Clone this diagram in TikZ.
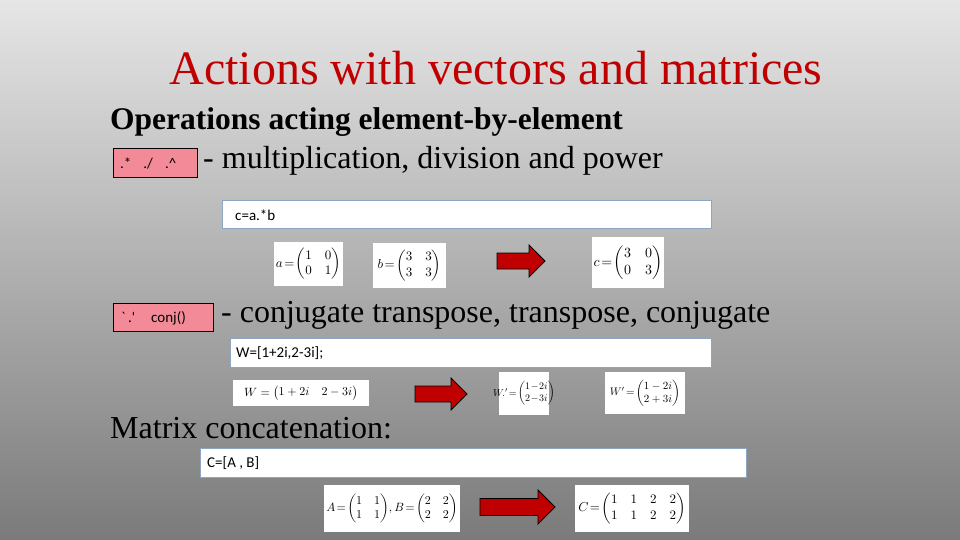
\documentclass[tikz,border=0pt]{standalone}
\usepackage{fontspec}
\usepackage{amsmath}
\usepackage{graphicx}
\setmainfont{Liberation Serif}
\newfontfamily\codefont{Carlito}
\usetikzlibrary{calc}
\definecolor{titlered}{HTML}{C00000}
\definecolor{pinkbox}{HTML}{F28A98}
\definecolor{codeborder}{HTML}{8EA6C4}
\definecolor{arrowred}{HTML}{C00000}
\tikzset{
  codebox/.style={draw=codeborder,fill=white,line width=0.8pt},
  opbox/.style={draw=black,fill=pinkbox,line width=0.6pt},
  matbox/.style={fill=white},
  codetxt/.style={anchor=west,font=\codefont\fontsize{15}{17}\selectfont,inner sep=0pt},
  bigtxt/.style={anchor=west,font=\fontsize{32}{35}\selectfont,inner sep=0pt},
  mat/.style={inner sep=0pt}
}
\newcommand{\bigarrow}[5]{% name, x1, x2, ytop, ybot
  \path[draw=black,fill=arrowred,line width=0.8pt]
    (#2,{#4+(#5-#4)*0.25}) -- ({#3-(#5-#4)*0.5},{#4+(#5-#4)*0.25}) -- ({#3-(#5-#4)*0.5},#4)
    -- (#3,{(#4+#5)/2}) -- ({#3-(#5-#4)*0.5},#5) -- ({#3-(#5-#4)*0.5},{#5-(#5-#4)*0.25})
    -- (#2,{#5-(#5-#4)*0.25}) -- cycle;
  \coordinate (#1) at ({(#2+#3)/2},{(#4+#5)/2});}
\begin{document}
\begin{tikzpicture}[x=1pt,y=-1pt]
\shade[top color=black!10,bottom color=black!52] (0,0) rectangle (960,540);
\useasboundingbox (0,0) rectangle (960,540);
\node[font=\fontsize{48}{52}\selectfont,text=titlered,inner sep=0pt] (title) at (496,68) {Actions with vectors and matrices};
\node[bigtxt,font=\bfseries\fontsize{31.5}{35}\selectfont] (ops) at (110,122) {Operations acting element-by-element};
% row 1
\draw[opbox] (113,148) rectangle (197,177);
\node[codetxt] (op1) at (120,163) {.*\hspace{12pt}./\hspace{12pt}.\^{}};
\node[bigtxt] (t1) at (203,161) {- multiplication, division and power};
\draw[codebox] (222,200) rectangle (711,228);
\node[codetxt] (c1) at (235,215) {c=a.*b};
\fill[matbox] (274,242) rectangle (343,286);
\node[mat] (ma) at (308.5,264) {\scalebox{1.3}{$a\!=\!\begin{pmatrix}1&0\\0&1\end{pmatrix}$}};
\fill[matbox] (373,243) rectangle (446,288);
\node[mat] (mb) at (409.5,265.5) {\scalebox{1.3}{$b\!=\!\begin{pmatrix}3&3\\3&3\end{pmatrix}$}};
\bigarrow{a1}{497}{545}{245}{277}
\fill[matbox] (592,237) rectangle (664,288);
\node[mat] (mc) at (628,262.5) {\scalebox{1.4}{$c\!=\!\begin{pmatrix}3&0\\0&3\end{pmatrix}$}};
% row 2
\draw[opbox] (113,303) rectangle (213,331);
\node[codetxt] (op2) at (121,318) {`\,.'\hspace{16pt}conj()};
\node[bigtxt] (t2) at (221,315) {- conjugate transpose, transpose, conjugate};
\draw[codebox] (230,338) rectangle (711,367);
\node[codetxt] (c2) at (236,353) {W=[1+2i,2-3i];};
\fill[matbox] (233,380) rectangle (369,406);
\node[mat] (mw) at (301,393) {\scalebox{1.2}{$W=\begin{pmatrix}1+2i & 2-3i\end{pmatrix}$}};
\bigarrow{a2}{415}{467}{378}{410}
\fill[matbox] (499,372) rectangle (549,415);
\node[mat] (mwt) at (524,393.5) {\scalebox{1.0}{$W.'\!=\!\begin{pmatrix}1\!-\!2i\\2\!-\!3i\end{pmatrix}$}};
\fill[matbox] (605,372) rectangle (685,414);
\node[mat] (mwc) at (645,393) {\scalebox{1.1}{$W'\!=\!\begin{pmatrix}1-2i\\2+3i\end{pmatrix}$}};
% row 3
\node[bigtxt] (t3) at (110,428) {Matrix concatenation:};
\draw[codebox] (200,448) rectangle (746,477);
\node[codetxt] (c3) at (207,463) {C=[A , B]};
\fill[matbox] (324,485) rectangle (460,532);
\node[mat] (mab) at (392,508.5) {\scalebox{1.2}{$A\!=\!\begin{pmatrix}1&1\\1&1\end{pmatrix}\!,B\!=\!\begin{pmatrix}2&2\\2&2\end{pmatrix}$}};
\bigarrow{a3}{480}{555}{490}{524}
\fill[matbox] (575,485) rectangle (689,532);
\node[mat] (mcc) at (632,508.5) {\scalebox{1.3}{$C\!=\!\begin{pmatrix}1&1&2&2\\1&1&2&2\end{pmatrix}$}};
\end{tikzpicture}
\end{document}
